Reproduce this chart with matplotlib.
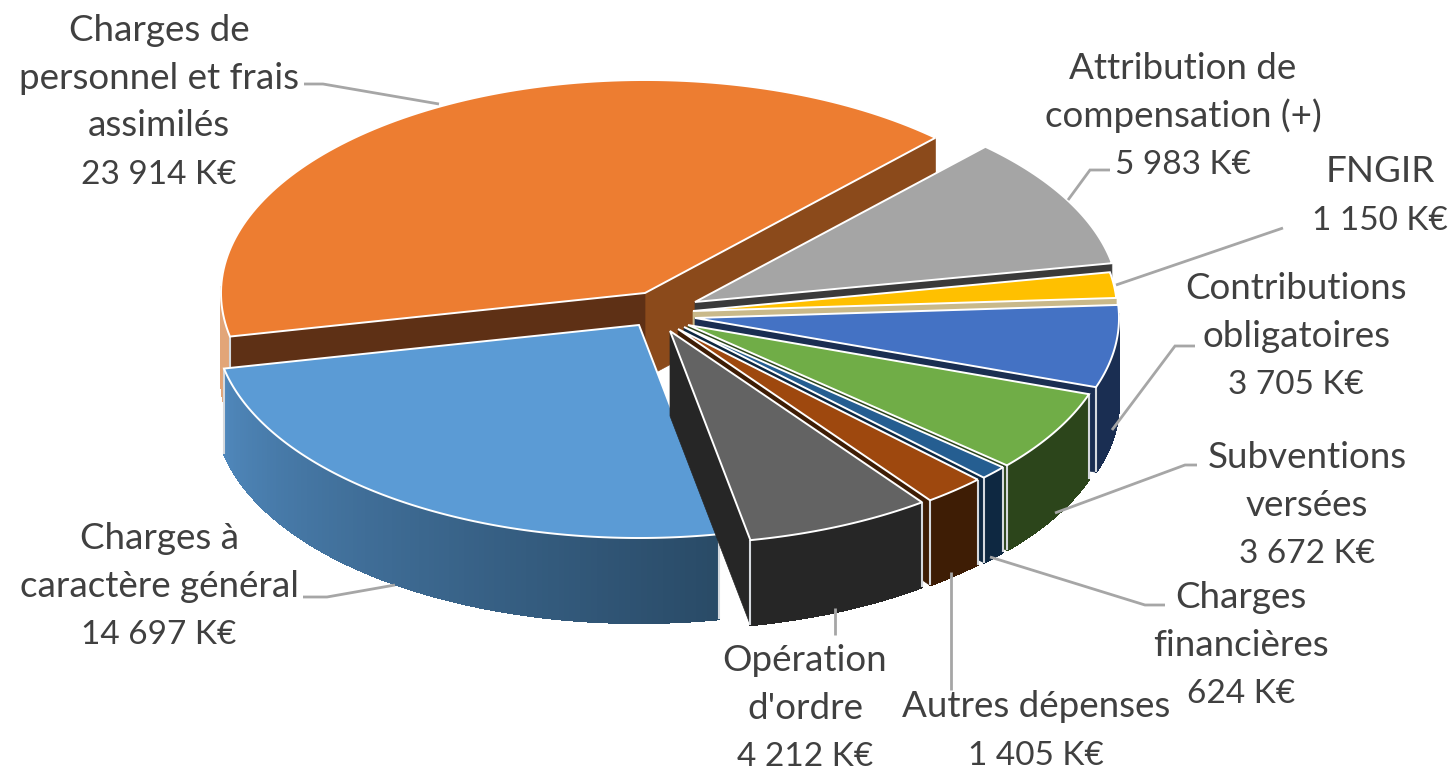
import numpy as np
import matplotlib
matplotlib.use("Agg")
import matplotlib.pyplot as plt
from matplotlib.collections import PolyCollection
from matplotlib.colors import to_rgb

# ---- data ----
categories = ["Charges de\npersonnel et frais\nassimilés", "Attribution de\ncompensation (+)", "FNGIR",
              "Contributions\nobligatoires", "Subventions\nversées", "Charges\nfinancières",
              "Autres dépenses", "Opération\nd'ordre", "Charges à\ncaractère général"]
values = [23914, 5983, 1150, 3705, 3672, 624, 1405, 4212, 14697]

# ---- style ----
top_colors = ["#ED7D31", "#A5A5A5", "#FFC000", "#4472C4", "#70AD47", "#255E91", "#9E480E", "#636363", "#5B9BD5"]
wall_light = ["#E2A578", "#6E6E6E", "#A88000", "#1A2E52", "#2C451B", "#0E2841", "#3E1D05", "#262626", "#5088BC"]
wall_dark = ["#E2A578", "#6E6E6E", "#A88000", "#1A2E52", "#2C451B", "#0E2841", "#3E1D05", "#262626", "#294A66"]
face_cw = ["#8B4A1B", "#3A3A3A", "#C9B98A", "#1A2E52", "#2C451B", "#0E2841", "#3E1D05", "#262626", "#294A66"]
face_ccw = ["#5E3015", "#3A3A3A", "#C9B98A", "#1A2E52", "#8E9AA8", "#0E2841", "#3E1D05", "#262626", "#294A66"]
offsets = [(-27, -19), (23, -10), (21, -1), (23, 6), (16, 13), (12, 15), (6, 17), (-2, 19), (-33, 13)]
draw_order = [0, 1, 2, 3, 4, 5, 6, 8, 7]
label_pos = [(159, 41), (1183, 79), (1380, 182), (1296, 299), (1307, 468), (1241, 608), (1036, 717), (805, 671), (159, 549)]
leaders = [[(304, 84), (323, 84), (439, 104)], [(1110, 170), (1090, 170), (1068, 200)], [(1283, 228), (1116, 285)],
           [(1195, 346), (1175, 346), (1112, 430)], [(1197, 465), (1185, 465), (1055, 513)],
           [(1165, 605), (1145, 605), (990, 557)], [(951, 690), (951, 572)], [(835, 635), (835, 608)],
           [(303, 597), (327, 597), (395, 585)]]
CX, CY, RX, RY, DEPTH = 672, 312, 424, 213, 85
START_ANGLE = 191.8
LINE_PITCH = 47.7
EDGE = "#D5D9DE"

plt.rcParams["font.family"] = ["Lato", "DejaVu Sans"]
fig = plt.figure(figsize=(14.53, 7.72), dpi=100)
ax = fig.add_axes([0, 0, 1, 1])
ax.set_xlim(0, 1453)
ax.set_ylim(772, 0)
ax.axis("off")

vals = np.array(values, float)
sweeps = vals / vals.sum() * 360
ends_cw = START_ANGLE - np.concatenate([[0], np.cumsum(sweeps)])


def pt(cx, cy, deg, dz=0):
    t = np.radians(deg)
    return cx + RX * np.cos(t), cy - RY * np.sin(t) + dz


z = 1
for i in draw_order:
    a_ccw, a_cw = ends_cw[i], ends_cw[i + 1]   # a_ccw > a_cw
    cx, cy = CX + offsets[i][0], CY + offsets[i][1]
    # radial faces (only those looking towards the viewer)
    for ang, nrm, col in [(a_cw, a_cw - 90, face_cw[i]), (a_ccw, a_ccw + 90, face_ccw[i])]:
        if np.sin(np.radians(nrm)) < 0:
            p = pt(cx, cy, ang)
            ax.fill([cx, p[0], p[0], cx], [cy, p[1], p[1] + DEPTH, cy + DEPTH], color=col, lw=0.5, zorder=z)
    # outer wall, shaded strip by strip
    th = np.linspace(a_cw, a_ccw, 120)
    polys, cols = [], []
    for a, b in zip(th[:-1], th[1:]):
        if np.sin(np.radians((a + b) / 2)) > 0.02:
            continue
        pa, pb = pt(cx, cy, a), pt(cx, cy, b)
        polys.append([pa, pb, (pb[0], pb[1] + DEPTH), (pa[0], pa[1] + DEPTH)])
        f = (a - a_cw) / (a_ccw - a_cw)
        cols.append(tuple(np.array(to_rgb(wall_light[i])) * (1 - f) + np.array(to_rgb(wall_dark[i])) * f))
    if polys:
        ax.add_collection(PolyCollection(polys, facecolors=cols, edgecolors=cols, linewidths=0.8,
                                         antialiaseds=False, zorder=z))
        # pale vertical seams at the ends of the visible wall
        for ang in (a_cw, a_ccw):
            if np.sin(np.radians(ang)) < 0.02:
                p = pt(cx, cy, ang)
                ax.plot([p[0], p[0]], [p[1], p[1] + DEPTH], color=EDGE, lw=1.5, solid_capstyle="butt", zorder=z + 0.2)
    # top surface
    xs, ys = pt(cx, cy, th)
    ax.fill(np.r_[cx, xs], np.r_[cy, ys], facecolor=top_colors[i], edgecolor="white", lw=1.4,
            joinstyle="miter", zorder=z + 0.5)
    z += 1

for pts in leaders:
    ax.plot(*zip(*pts), color="#A6A6A6", lw=2.0, solid_joinstyle="miter", solid_capstyle="butt", zorder=z)

for cat, val, (x, y) in zip(categories, values, label_pos):
    lines = cat.split("\n")
    for k, line in enumerate(lines):
        ax.text(x, y + k * LINE_PITCH, line, ha="center", va="baseline", fontsize=26.5, color="#404040", zorder=z + 1)
    ax.text(x, y + len(lines) * LINE_PITCH, f"{val:,}".replace(",", " ") + " K€", ha="center", va="baseline",
            fontsize=24, color="#404040", zorder=z + 1)

fig.savefig("out.png", dpi=100)
